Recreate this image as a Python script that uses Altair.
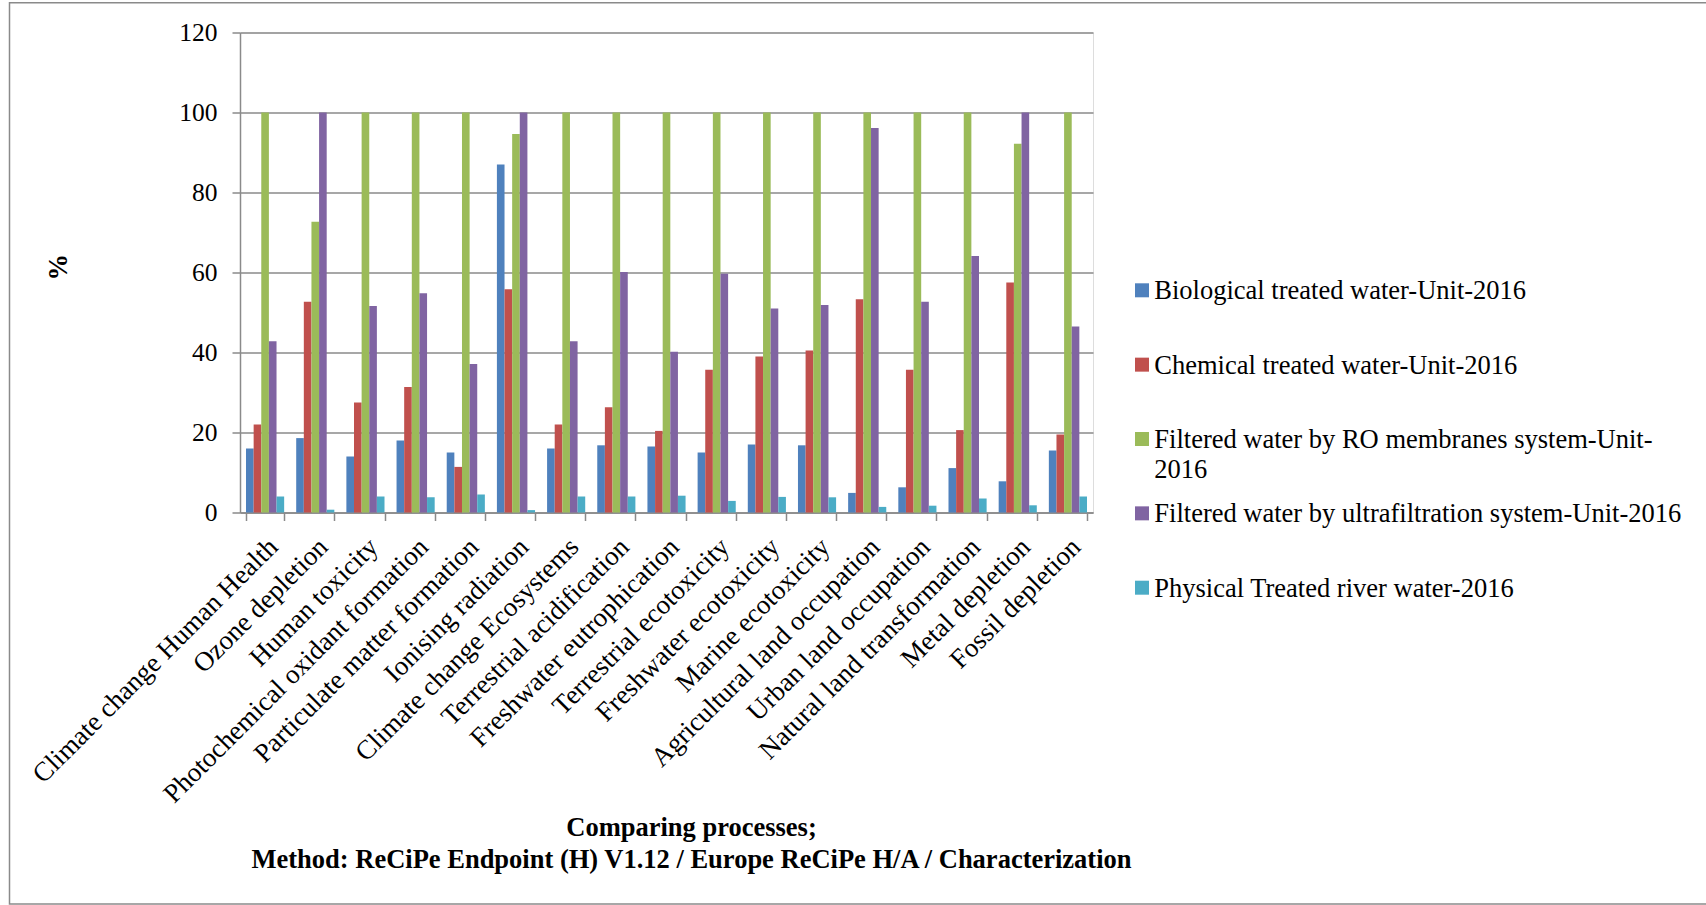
import altair as alt
import pandas as pd

categories = [
    "Climate change Human Health", "Ozone depletion", "Human toxicity",
    "Photochemical oxidant formation", "Particulate matter formation",
    "Ionising radiation", "Climate change Ecosystems", "Terrestrial acidification",
    "Freshwater eutrophication", "Terrestrial ecotoxicity", "Freshwater ecotoxicity",
    "Marine ecotoxicity", "Agricultural land occupation", "Urban land occupation",
    "Natural land transformation", "Metal depletion", "Fossil depletion",
]

series = [
    "Biological treated water-Unit-2016",
    "Chemical treated water-Unit-2016",
    "Filtered water by RO membranes system-Unit-2016",
    "Filtered water by ultrafiltration system-Unit-2016",
    "Physical Treated river water-2016",
]

# legend text, with the wrapped third entry
legend_labels = [
    "Biological treated water-Unit-2016",
    "Chemical treated water-Unit-2016",
    "Filtered water by RO membranes system-Unit-\n2016",
    "Filtered water by ultrafiltration system-Unit-2016",
    "Physical Treated river water-2016",
]

colors = ["#4F81BD", "#C0504D", "#9BBB59", "#8064A2", "#4BACC6"]

biological = [16.0, 18.6, 14.0, 18.0, 15.0, 87.0, 16.0, 16.8, 16.5, 15.0, 17.0, 16.8, 4.9, 6.3, 11.1, 7.8, 15.5]
chemical = [22.0, 52.7, 27.5, 31.4, 11.4, 55.8, 22.0, 26.3, 20.4, 35.7, 39.0, 40.5, 53.3, 35.7, 20.6, 57.5, 19.5]
ro_membranes = [100, 72.7, 100, 100, 100, 94.6, 100, 100, 100, 100, 100, 100, 100, 100, 100, 92.2, 100]
ultrafiltration = [42.8, 100, 51.6, 54.8, 37.1, 100, 42.8, 60.1, 40.2, 59.7, 51.0, 51.9, 96.1, 52.7, 64.1, 100, 46.5]
physical = [4.0, 0.7, 4.0, 3.8, 4.5, 0.6, 4.0, 4.0, 4.2, 2.9, 3.9, 3.8, 1.4, 1.7, 3.5, 1.8, 4.0]

y_ticks = [0, 20, 40, 60, 80, 100, 120]

values_by_series = [biological, chemical, ro_membranes, ultrafiltration, physical]
rows = []
for name, vals in zip(series, values_by_series):
    for cat, v in zip(categories, vals):
        rows.append({"category": cat, "series": name, "value": v})
df = pd.DataFrame(rows)
legend_df = pd.DataFrame({"series": series, "label": legend_labels})

FONT = "'Liberation Serif', 'Times New Roman', Tinos, 'DejaVu Serif', serif"
GRID = "#8A8A8A"
W, H = 853, 480
LEFT, TOP = 240, 32.5

color_scale = alt.Scale(domain=series, range=colors)

frame = alt.Chart(pd.DataFrame({"f": [0]})).mark_rect(
    fill=None, stroke=GRID, strokeWidth=1.5
).encode(
    x=alt.value(9.5 - LEFT), x2=alt.value(1712 - LEFT),
    y=alt.value(2.7 - TOP), y2=alt.value(904 - TOP),
)

bars = alt.Chart(df).mark_bar().encode(
    x=alt.X(
        "category:N", sort=categories,
        scale=alt.Scale(paddingInner=0.24, paddingOuter=0.12),
        axis=alt.Axis(
            title=["Comparing processes;",
                   "Method: ReCiPe Endpoint (H) V1.12 / Europe ReCiPe H/A / Characterization"],
            titleFont=FONT, titleFontSize=26.5, titleFontWeight="bold", titleColor="black",
            titleX=451, titleY=814.1 - TOP - H, titleAlign="center", titleBaseline="top",
            titleLineHeight=32,
            labelAngle=-45, labelAlign="right", labelBaseline="middle",
            labelFont=FONT, labelFontSize=27, labelColor="black", labelLimit=1000,
            labelPadding=22, labelOffset=8,
            tickBand="extent", tickSize=8, tickColor=GRID, tickWidth=1.5,
            domainColor=GRID, domainWidth=1.5, grid=False,
        ),
    ),
    xOffset=alt.XOffset("series:N", sort=series,
                        scale=alt.Scale(paddingInner=0, paddingOuter=0)),
    y=alt.Y(
        "value:Q",
        scale=alt.Scale(domain=[0, 120], nice=False),
        axis=alt.Axis(
            values=y_ticks, title="%",
            titleFont=FONT, titleFontSize=26.5, titleFontWeight="bold", titleColor="black",
            titleAngle=-90, titleX=58 - LEFT, titleY=266.7 - TOP, titleAlign="center",
            titleBaseline="middle",
            labelFont=FONT, labelFontSize=25.5, labelColor="black", labelPadding=15,
            tickSize=8, tickColor=GRID, tickWidth=1.5,
            domainColor=GRID, domainWidth=1.5,
            grid=True, gridColor=GRID, gridWidth=1.5,
        ),
    ),
    color=alt.Color("series:N", scale=color_scale, legend=None),
)

legend_y = alt.Y("series:N", sort=series, axis=None,
                 scale=alt.Scale(domain=series, range=[290.3 - TOP, 587.7 - TOP], padding=0))

legend_symbols = alt.Chart(legend_df).mark_square(size=196, opacity=1).encode(
    x=alt.value(1142 - LEFT),
    y=legend_y,
    color=alt.Color("series:N", scale=color_scale, legend=None),
)

legend_text = alt.Chart(legend_df).mark_text(
    align="left", baseline="top", dy=-12, lineBreak="\n", lineHeight=30,
    font=FONT, fontSize=26.5, color="black",
).encode(
    x=alt.value(1154.3 - LEFT),
    y=legend_y,
    text="label:N",
)

chart = alt.layer(frame, bars, legend_symbols, legend_text).resolve_scale(
    y="independent"
).properties(
    width=W, height=H,
    autosize=alt.AutoSizeParams(type="none"),
    padding={"left": LEFT, "top": TOP, "right": 1706 - LEFT - W, "bottom": 905 - TOP - H},
    background="white",
).configure_view(stroke=None).configure(font=FONT)

chart.save("out.html", embed_options={"renderer": "svg", "actions": False})
